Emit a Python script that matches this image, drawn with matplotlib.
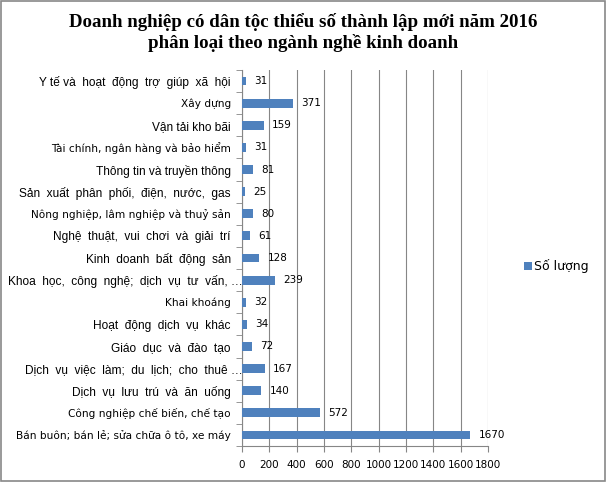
import numpy as np
import matplotlib
matplotlib.use("Agg")
import matplotlib.pyplot as plt
import matplotlib.transforms as mtransforms
from matplotlib.patches import Rectangle

# ------------------ DATA ------------------
categories = [
    "Y tế và  hoạt  động  trợ  giúp  xã  hội",
    "Xây dựng",
    "Vận tải kho bãi",
    "Tài chính, ngân hàng và bảo hiểm",
    "Thông tin và truyền thông",
    "Sản  xuất  phân  phối,  điện,  nước,  gas",
    "Nông nghiệp, lâm nghiệp và thuỷ sản",
    "Nghệ  thuật,  vui  chơi  và  giải  trí",
    "Kinh  doanh  bất  động  sản",
    "Khoa  học,  công  nghệ;  dịch  vụ  tư  vấn, …",
    "Khai khoáng",
    "Hoạt  động  dịch  vụ  khác",
    "Giáo  dục  và  đào  tạo",
    "Dịch  vụ  việc  làm;  du  lịch;  cho  thuê …",
    "Dịch  vụ  lưu  trú  và  ăn  uống",
    "Công nghiệp chế biến, chế tạo",
    "Bán buôn; bán lẻ; sửa chữa ô tô, xe máy",
]
values = [31, 371, 159, 31, 81, 25, 80, 61, 128, 239, 32, 34, 72, 167, 140, 572, 1670]
# labels Excel drew in a tighter font
small_labels = {1, 3, 6, 10, 15, 16}
# truncated labels whose ellipsis runs into the axis
cut_labels = {9, 13}
x_ticks = list(range(0, 1801, 200))

title = "Doanh nghiệp có dân tộc thiểu số thành lập mới năm 2016\nphân loại theo ngành nghề kinh doanh"
legend_label = "Số lượng"

BAR_COLOR = "#4f81bd"
GRID_COLOR = "#868686"

# ------------------ PLOT ------------------
fig = plt.figure(figsize=(6.06, 4.82), dpi=100)
ax = fig.add_axes([242 / 606, 1 - 446 / 482, 246 / 606, 376 / 482])

y = np.arange(len(categories))
bars = ax.barh(y, values, height=0.4, color=BAR_COLOR, label=legend_label, zorder=3)

for yi, v in zip(y, values):
    ax.text(v + 60, yi, str(v), va="center", ha="left", fontsize=7.5,
            family="DejaVu Sans", zorder=4)

ax.set_xlim(0, 1800)
ax.set_ylim(len(categories) - 0.5, -0.5)
ax.set_xticks(x_ticks)
ax.set_xticklabels([str(t) for t in x_ticks], fontsize=7.5, family="DejaVu Sans")
ax.tick_params(axis="x", length=4, color=GRID_COLOR, pad=6)

ax.set_yticks(y)
ax.set_yticklabels(categories)
ax.tick_params(axis="y", length=0, pad=8)
ax.set_yticks(np.arange(-0.5, len(categories), 1), minor=True)
ax.tick_params(axis="y", which="minor", length=4, color=GRID_COLOR)

shift = mtransforms.ScaledTranslation(12 / 100, 0, fig.dpi_scale_trans)
for i, lab in enumerate(ax.get_yticklabels()):
    if i in small_labels:
        lab.set_family("DejaVu Sans")
        lab.set_fontsize(7.6)
    else:
        lab.set_family("Liberation Sans")
        lab.set_fontsize(8.6)
    if i in cut_labels:
        lab.set_transform(lab.get_transform() + shift)

ax.grid(axis="x", color=GRID_COLOR, linewidth=0.8, zorder=0)
for side in ["top", "right"]:
    ax.spines[side].set_visible(False)
for side in ["left", "bottom"]:
    ax.spines[side].set_color(GRID_COLOR)
    ax.spines[side].set_linewidth(0.8)

fig.text(0.5, 1 - 13 / 482, title, ha="center", va="top", fontsize=13.6,
         family="Liberation Serif", fontweight="bold", linespacing=1.2)

fig.legend(handles=[bars], labels=[legend_label], loc="center left",
           bbox_to_anchor=(513 / 606, 1 - 266 / 482), frameon=False,
           handlelength=0.6, handleheight=0.6, handletextpad=0.2,
           prop={"family": "DejaVu Sans", "size": 9})

# grey outer frame like the Excel chart area
fig.patches.append(Rectangle((0.002, 0.002), 0.996, 0.996, transform=fig.transFigure,
                             fill=False, edgecolor="#888888", linewidth=1.2))

fig.savefig("out.png", dpi=100)
